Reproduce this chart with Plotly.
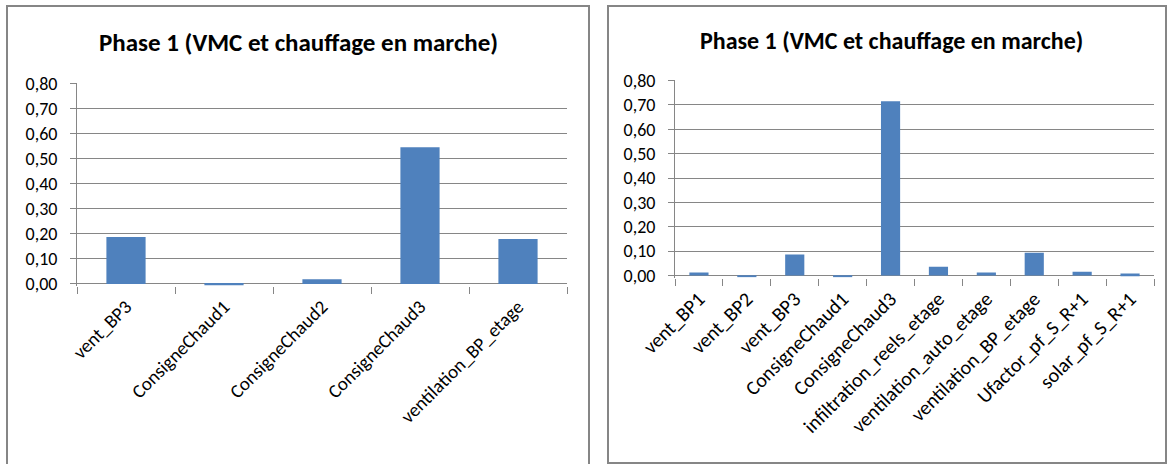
import plotly.graph_objects as go

# Left chart: sensitivity per parameter
left_categories = ["vent_BP3", "ConsigneChaud1", "ConsigneChaud2",
                   "ConsigneChaud3", "ventilation_BP_etage"]
left_values = [0.187, -0.005, 0.019, 0.545, 0.179]

# Right chart: sensitivity per parameter
right_categories = ["vent_BP1", "vent_BP2", "vent_BP3", "ConsigneChaud1",
                    "ConsigneChaud3", "infiltration_reels_etage",
                    "ventilation_auto_etage", "ventilation_BP_etage",
                    "Ufactor_pf_S_R+1", "solar_pf_S_R+1"]
right_values = [0.012, -0.005, 0.086, -0.005, 0.715, 0.036, 0.012, 0.094,
                0.016, 0.008]

title_text = "Phase 1 (VMC et chauffage en marche)"
y_ticks = [0.0, 0.1, 0.2, 0.3, 0.4, 0.5, 0.6, 0.7, 0.8]

W, H = 1172, 464
FONT = "Calibri, Carlito, 'Open Sans', sans-serif"
GRAY = "#868686"
BAR = "#4F81BD"


def px_x(x):
    return x / W


def px_y(y):
    return 1 - y / H


fig = go.Figure()
fig.add_trace(go.Bar(x=left_categories, y=left_values, marker_color=BAR,
                     marker_line_width=0, xaxis="x", yaxis="y"))
fig.add_trace(go.Bar(x=right_categories, y=right_values, marker_color=BAR,
                     marker_line_width=0, xaxis="x2", yaxis="y2"))

yaxis_common = dict(
    range=[-0.008, 0.801], tickvals=y_ticks, tickformat=".2f",
    showgrid=True, gridcolor=GRAY, gridwidth=1,
    zeroline=True, zerolinecolor=GRAY, zerolinewidth=1,
    showline=True, linecolor=GRAY, linewidth=1,
    ticks="outside", ticklen=6, tickcolor=GRAY, tickwidth=1,
    ticklabelstandoff=9, automargin=False,
    tickfont=dict(family=FONT, size=18, color="#000000"),
)


def category_axis(domain, anchor, font_size, standoff):
    return dict(
        domain=domain, anchor=anchor,
        showgrid=False, showline=False, zeroline=False,
        ticks="outside", tickson="boundaries", ticklen=7, tickcolor=GRAY,
        tickwidth=1, tickangle=-45, automargin=False,
        ticklabelstandoff=standoff,
        tickfont=dict(family=FONT, size=font_size, color="#000000"),
    )


fig.update_layout(
    width=W, height=H,
    margin=dict(l=0, r=0, t=0, b=0, autoexpand=False),
    paper_bgcolor="white", plot_bgcolor="white",
    showlegend=False, bargap=0.6,
    separators=", ",
    xaxis=category_axis([px_x(77), px_x(567)], "y", 19, 5),
    yaxis=dict(domain=[px_y(286), px_y(83)], anchor="x", **yaxis_common),
    xaxis2=category_axis([px_x(675), px_x(1154)], "y2", 20, 5),
    yaxis2=dict(domain=[px_y(277.5), px_y(80.3)], anchor="x2", **yaxis_common),
)

# Chart-area frames
fig.add_shape(type="rect", xref="paper", yref="paper",
              x0=px_x(7), x1=px_x(589), y0=px_y(470), y1=px_y(6),
              line=dict(color=GRAY, width=2), fillcolor="rgba(0,0,0,0)")
fig.add_shape(type="rect", xref="paper", yref="paper",
              x0=px_x(608), x1=px_x(1166), y0=px_y(463), y1=px_y(6),
              line=dict(color=GRAY, width=2), fillcolor="rgba(0,0,0,0)")

# Chart titles
for cx, cy, fs in [(298, 43, 25), (891, 40, 24)]:
    fig.add_annotation(text="<b>" + title_text + "</b>", xref="paper",
                       yref="paper", x=px_x(cx), y=px_y(cy),
                       xanchor="center", yanchor="middle", showarrow=False,
                       font=dict(family=FONT, size=fs, color="#000000"))

fig.write_html("out.html")
